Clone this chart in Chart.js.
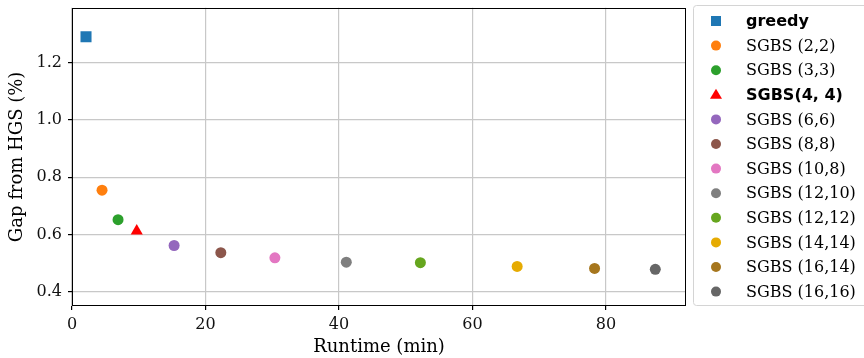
<!DOCTYPE html>
<html>
<head>
<meta charset="utf-8">
<script src="https://cdn.jsdelivr.net/npm/chart.js@4.4.0/dist/chart.umd.min.js"></script>
<style>
  html, body { margin: 0; padding: 0; background: #fff; overflow: hidden; }
</style>
</head>
<body>
<canvas id="c" width="864" height="358"></canvas>
<script>
// ---- data ----
const labels   = ["greedy", "SGBS (2,2)", "SGBS (3,3)", "SGBS(4, 4)", "SGBS (6,6)", "SGBS (8,8)",
                  "SGBS (10,8)", "SGBS (12,10)", "SGBS (12,12)", "SGBS (14,14)", "SGBS (16,14)", "SGBS (16,16)"];
const runtimes = [2.1, 4.5, 6.9, 9.7, 15.3, 22.3, 30.4, 41.1, 52.2, 66.7, 78.3, 87.4];
const gaps     = [1.29, 0.755, 0.652, 0.613, 0.562, 0.537, 0.519, 0.504, 0.502, 0.489, 0.482, 0.479];
const xTicks   = [0, 20, 40, 60, 80];
const yTicks   = [0.4, 0.6, 0.8, 1.0, 1.2];

// ---- styles ----
const colors = ["#1f77b4", "#ff7f0e", "#2ca02c", "#ff0000", "#9467bd", "#8c564b",
                "#e377c2", "#7f7f7f", "#66a61e", "#e6ab02", "#a6761d", "#666666"];
const shapes = ["rect", "circle", "circle", "triangle", "circle", "circle",
                "circle", "circle", "circle", "circle", "circle", "circle"];
const radii  = [7.8, 5.5, 5.5, 7, 5.5, 5.5, 5.5, 5.5, 5.5, 5.5, 5.5, 5.5];
const boldLabels = [true, false, false, true, false, false, false, false, false, false, false, false];

const datasets = labels.map((l, i) => ({
  label: l,
  data: [{ x: runtimes[i], y: gaps[i] }],
  backgroundColor: colors[i],
  borderWidth: 0,
  pointStyle: shapes[i],
  pointRadius: radii[i],
  pointHoverRadius: radii[i]
}));

const frame = {
  id: 'frame',
  afterDatasetsDraw(chart) {
    const a = chart.chartArea, ctx = chart.ctx;
    ctx.save();
    ctx.strokeStyle = '#000';
    ctx.lineWidth = 1;
    ctx.strokeRect(Math.round(a.left) + 0.5, Math.round(a.top) + 0.5,
                   Math.round(a.right - a.left) - 1, Math.round(a.bottom - a.top) - 1);
    ctx.restore();
  }
};

function roundRect(ctx, x, y, w, h, r) {
  ctx.beginPath();
  ctx.moveTo(x + r, y);
  ctx.lineTo(x + w - r, y); ctx.arcTo(x + w, y, x + w, y + r, r);
  ctx.lineTo(x + w, y + h - r); ctx.arcTo(x + w, y + h, x + w - r, y + h, r);
  ctx.lineTo(x + r, y + h); ctx.arcTo(x, y + h, x, y + h - r, r);
  ctx.lineTo(x, y + r); ctx.arcTo(x, y, x + r, y, r);
  ctx.closePath();
}

const legendPlugin = {
  id: 'sideLegend',
  afterDraw(chart) {
    const ctx = chart.ctx;
    ctx.save();
    roundRect(ctx, 693.5, 5.5, 190, 300, 3);
    ctx.fillStyle = '#fff'; ctx.fill();
    ctx.strokeStyle = '#d4d4d4'; ctx.lineWidth = 1; ctx.stroke();
    chart.data.datasets.forEach((ds, i) => {
      const cy = 21 + i * 24.6;
      const cx = 716;
      ctx.fillStyle = ds.backgroundColor;
      ctx.beginPath();
      if (ds.pointStyle === 'rect') {
        ctx.rect(cx - 5, cy - 5, 10, 10);
      } else if (ds.pointStyle === 'triangle') {
        ctx.moveTo(cx, cy - 6); ctx.lineTo(cx + 6, cy + 4); ctx.lineTo(cx - 6, cy + 4); ctx.closePath();
      } else {
        ctx.arc(cx, cy, 5, 0, Math.PI * 2);
      }
      ctx.fill();
      ctx.fillStyle = '#000';
      ctx.textBaseline = 'middle';
      ctx.textAlign = 'left';
      ctx.font = boldLabels[i] ? 'bold 16px "DejaVu Sans"' : '16px "DejaVu Serif"';
      ctx.fillText(ds.label, 746, cy + 1);
    });
    ctx.restore();
  }
};

const tickFont = { family: "DejaVu Serif", size: 16 };
new Chart(document.getElementById('c'), {
  type: 'scatter',
  data: { datasets },
  options: {
    responsive: false,
    animation: false,
    layout: { padding: { top: 7, right: 178, left: 0, bottom: 0 } },
    plugins: { legend: { display: false }, tooltip: { enabled: false } },
    scales: {
      x: {
        type: 'linear', min: 0, max: 92,
        afterBuildTicks: s => { s.ticks = xTicks.map(v => ({ value: v })); },
        afterFit: s => { s.height = 52; s.paddingLeft = 0; s.paddingRight = 0; },
        grid: { color: '#c8c8c8', lineWidth: 1.2, tickColor: '#000', tickLength: 4, drawTicks: true },
        border: { display: false },
        ticks: { font: tickFont, color: '#111', padding: 5, callback: v => String(v) },
        title: { display: true, text: 'Runtime (min)', font: { family: "DejaVu Serif", size: 18 },
                 color: '#000', padding: { top: 0, bottom: 0 } }
      },
      y: {
        type: 'linear', min: 0.351, max: 1.391,
        afterBuildTicks: s => { s.ticks = yTicks.map(v => ({ value: v })); },
        afterFit: s => { s.width = 72; s.paddingTop = 0; s.paddingBottom = 0; },
        grid: { color: '#c8c8c8', lineWidth: 1.2, tickColor: '#000', tickLength: 4, drawTicks: true },
        border: { display: false },
        ticks: { font: tickFont, color: '#111', padding: 6, callback: v => v.toFixed(1) },
        title: { display: true, text: 'Gap from HGS (%)', font: { family: "DejaVu Serif", size: 18 },
                 color: '#000', padding: { top: 7, bottom: 0 } }
      }
    }
  },
  plugins: [frame, legendPlugin]
});
</script>
</body>
</html>
